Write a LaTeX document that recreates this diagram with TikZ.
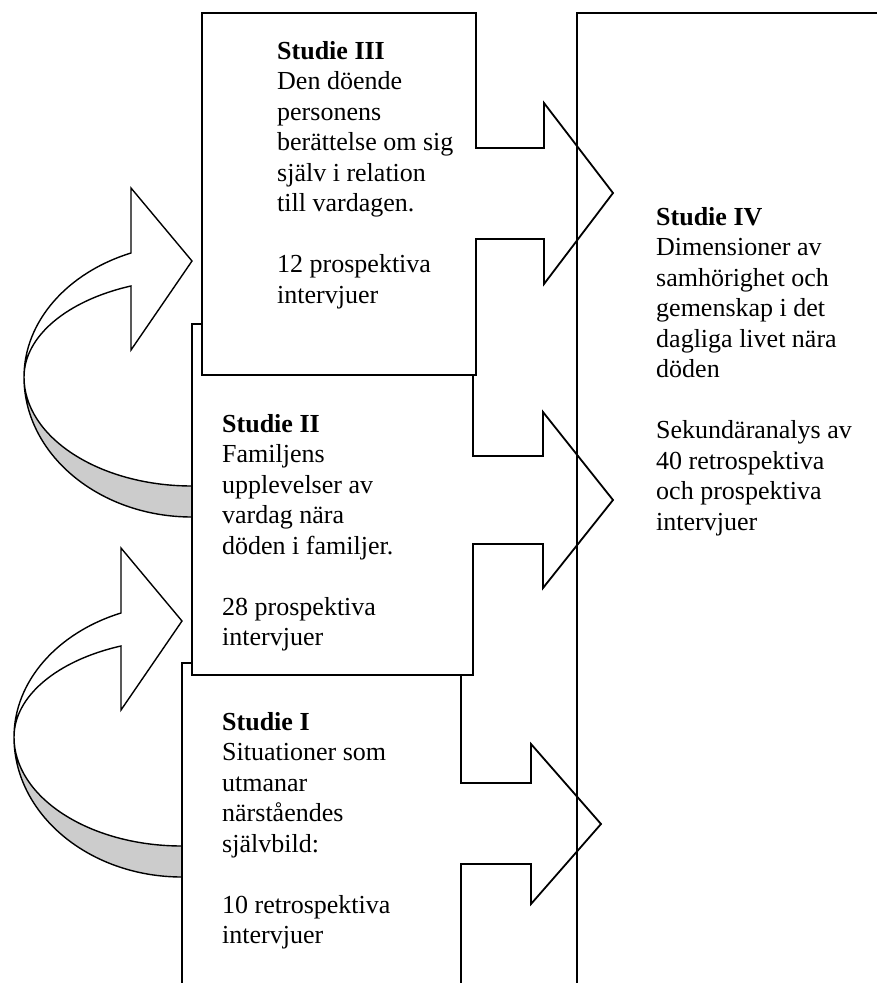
\documentclass[tikz,border=0pt]{standalone}
\usepackage{fontspec}
\setmainfont{Liberation Serif}
\newcommand\mycurvedarrow{%
  \path[back] (24,377) arc[start angle=180,end angle=90,x radius=168,y radius=140]
     -- (192,486) arc[start angle=90,end angle=180,x radius=168,y radius=109] -- cycle;
  \path[front] (131,253) arc[start angle=248.7,end angle=180,x radius=168,y radius=133]
     arc[start angle=180,end angle=248.7,x radius=168,y radius=97.6]
     -- (131,350) -- (192,261) -- (131,188) -- cycle;
}
\newcommand\boxtext[1]{\parbox[t]{260pt}{\fontsize{26}{30.5}\selectfont #1}}
\begin{document}
\begin{tikzpicture}[x=1pt,y=-1pt,
  callout/.style={draw=black,line width=1.8pt,fill=white,line join=miter},
  front/.style={draw=black,line width=1.4pt,fill=white},
  back/.style={draw=black,line width=1.4pt,fill=black!20},
  txt/.style={anchor=base west,inner sep=0pt}]
\clip (0,0) rectangle (877,983);
% curved arrows
\mycurvedarrow
\begin{scope}[shift={(-10,360)}]
  \mycurvedarrow
\end{scope}
% study boxes with right arrows
\path[callout] (182,1000) -- (182,663) -- (461,663) -- (461,783) -- (531,783) -- (531,744)
  -- (601,824) -- (531,904) -- (531,864) -- (461,864) -- (461,1000);
\path[callout] (192,324) -- (473,324) -- (473,456) -- (543,456) -- (543,412)
  -- (613,500) -- (543,588) -- (543,544) -- (473,544) -- (473,675) -- (192,675) -- cycle;
\path[callout] (202,13) -- (476,13) -- (476,148) -- (544,148) -- (544,103)
  -- (613,193) -- (544,284) -- (544,239) -- (476,239) -- (476,375) -- (202,375) -- cycle;
\draw[line width=1.8pt] (577,1000) -- (577,13) -- (900,13);
% texts
\node[txt] (t3) at (277,59) {\boxtext{\textbf{Studie III}\\Den döende\\personens\\berättelse om sig\\själv i relation\\till vardagen.\\[30.5pt]12 prospektiva\\intervjuer}};
\node[txt] (t2) at (222,432) {\boxtext{\textbf{Studie II}\\Familjens\\upplevelser av\\vardag nära\\döden i familjer.\\[30.5pt]28 prospektiva\\intervjuer}};
\node[txt] (t1) at (222,730) {\boxtext{\textbf{Studie I}\\Situationer som\\utmanar\\närståendes\\självbild:\\[30.5pt]10 retrospektiva\\intervjuer}};
\node[txt] (t4) at (656,225) {\boxtext{\textbf{Studie IV}\\Dimensioner av\\samhörighet och\\gemenskap i det\\dagliga livet nära\\döden\\[30.5pt]Sekundäranalys av\\40 retrospektiva\\och prospektiva\\intervjuer}};
\end{tikzpicture}
\end{document}
